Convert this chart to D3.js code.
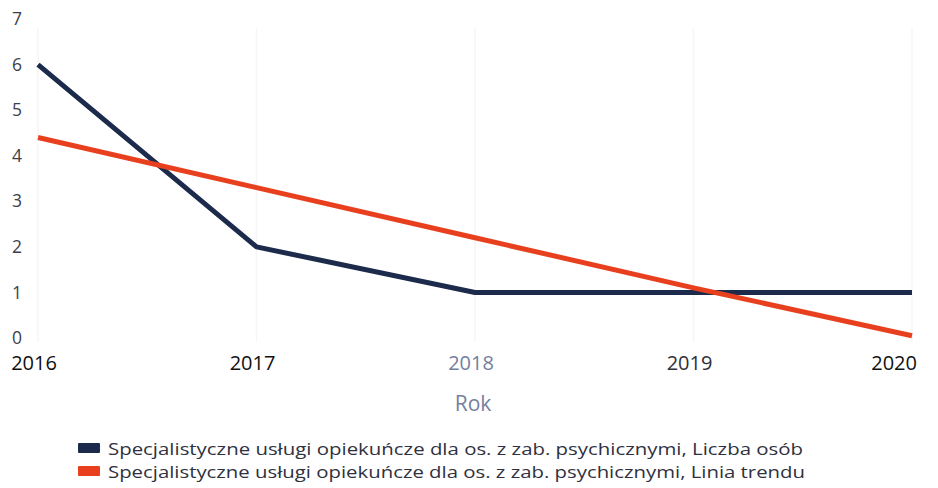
<!DOCTYPE html>
<html>
<head>
<meta charset="utf-8">
<script src="https://cdn.jsdelivr.net/npm/d3@7"></script>
<style>
  body { margin: 0; background: #fff; }
  svg { font-family: "Open Sans", sans-serif; }
</style>
</head>
<body>
<svg width="938" height="488"></svg>
<script>
// data
var years = [2016, 2017, 2018, 2019, 2020];
var liczbaOsob = [6, 2, 1, 1, 1];
var liniaTrendu = [4.4, 3.3, 2.2, 1.1, 0.05];
var yTicks = [0, 1, 2, 3, 4, 5, 6, 7];
var seriesNames = [
  "Specjalistyczne usługi opiekuńcze dla os. z zab. psychicznymi, Liczba osób",
  "Specjalistyczne usługi opiekuńcze dla os. z zab. psychicznymi, Linia trendu"
];
var colors = ["#1c2b4b", "#e8401f"];

var svg = d3.select("svg");
var margin = { top: 19, right: 26, bottom: 150, left: 38 };
var width = 938 - margin.left - margin.right;
var height = 488 - margin.top - margin.bottom;

var x = d3.scalePoint().domain(years).range([0, width]);
var y = d3.scaleLinear().domain([0, 7]).range([height, 0]);

var g = svg.append("g").attr("transform", "translate(" + margin.left + "," + margin.top + ")");

// very faint vertical grid
g.selectAll(".grid").data(years).enter().append("line")
  .attr("x1", function (d) { return x(d); })
  .attr("x2", function (d) { return x(d); })
  .attr("y1", y(6.8)).attr("y2", y(0) + 4)
  .attr("stroke", "#f6f6f8").attr("stroke-width", 1.5);

// y axis labels
g.selectAll(".ytick").data(yTicks).enter().append("text")
  .attr("x", -21).attr("y", function (d) { return y(d); })
  .attr("dy", "0.35em")
  .attr("text-anchor", "middle")
  .attr("font-size", 17.5).attr("fill", "#3d3f4c")
  .text(function (d) { return d; });

// x axis labels
var xColors = { 2018: "#7480a0", 2019: "#2e2f38" };
g.selectAll(".xtick").data(years).enter().append("text")
  .attr("x", function (d, i) { return i === years.length - 1 ? x(d) + 5 : x(d) - 4; })
  .attr("y", y(0) + 32)
  .attr("text-anchor", function (d, i) { return i === years.length - 1 ? "end" : "middle"; })
  .attr("font-size", 20).attr("fill", function (d) { return xColors[d] || "#111"; })
  .text(function (d) { return d; });

g.append("text")
  .attr("x", x(2018) - 2).attr("y", y(0) + 73)
  .attr("text-anchor", "middle")
  .attr("font-size", 21).attr("fill", "#7480a0")
  .text("Rok");

var line = d3.line()
  .x(function (d, i) { return x(years[i]); })
  .y(function (d) { return y(d); });

[liczbaOsob, liniaTrendu].forEach(function (s, i) {
  g.append("path")
    .datum(s)
    .attr("fill", "none")
    .attr("stroke", colors[i])
    .attr("stroke-width", 5)
    .attr("stroke-linejoin", "round")
    .attr("d", line);
});

// legend
var legend = svg.append("g").attr("transform", "translate(78,449)");
seriesNames.forEach(function (name, i) {
  var row = legend.append("g").attr("transform", "translate(0," + i * 23 + ")");
  row.append("rect").attr("x", 0).attr("y", -6).attr("width", 22).attr("height", 10)
    .attr("rx", 1).attr("fill", colors[i]);
  row.append("text").attr("x", 30).attr("y", 6)
    .attr("font-size", 17).attr("fill", "#2f3140")
    .attr("textLength", i === 0 ? 695 : 697)
    .attr("lengthAdjust", "spacingAndGlyphs")
    .text(name);
});
</script>
</body>
</html>
